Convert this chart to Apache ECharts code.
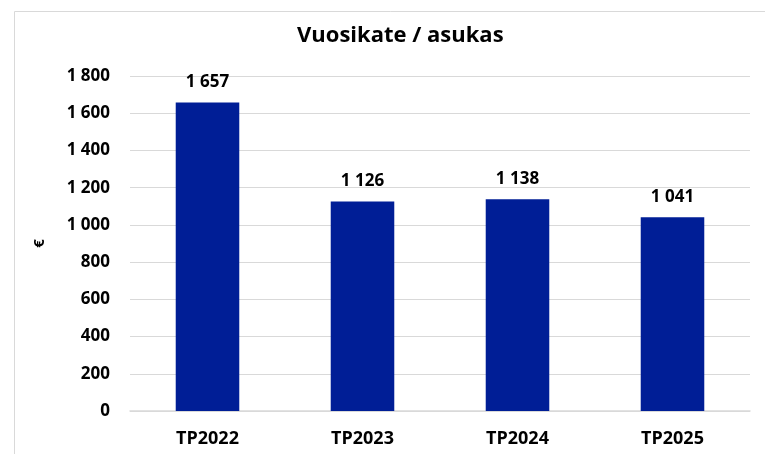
<!DOCTYPE html>
<html>
<head>
<meta charset="utf-8">
<script src="https://cdn.jsdelivr.net/npm/echarts@6/dist/echarts.min.js"></script>
<style>
  html, body { margin: 0; padding: 0; background: #fff; }
  #chart { width: 765px; height: 454px; }
</style>
</head>
<body>
<div id="chart"></div>
<script>
const categories = ['TP2022', 'TP2023', 'TP2024', 'TP2025']
const values = [1657, 1126, 1138, 1041]

const fmt = v => String(v).replace(/\B(?=(\d{3})+(?!\d))/g, ' ')
const font = '"Open Sans", "Noto Sans", sans-serif'

const chart = echarts.init(document.getElementById('chart'))
chart.setOption({
  animation: false,
  graphic: [{
    type: 'rect',
    shape: { x: 14.5, y: 11.5, width: 800, height: 500 },
    style: { fill: 'none', stroke: '#d9d9d9', lineWidth: 1 }
  }],
  title: {
    text: 'Vuosikate / asukas',
    left: 292,
    top: 20,
    textStyle: { fontFamily: font, fontWeight: 'bold', fontSize: 22, color: '#000' }
  },
  grid: { left: 130, right: 15, top: 76, bottom: 43 },
  xAxis: {
    type: 'category',
    data: categories,
    axisLine: { lineStyle: { color: '#d9d9d9', width: 1.5 } },
    axisTick: { show: false },
    axisLabel: { margin: 19, fontFamily: font, fontWeight: 'bold', fontSize: 18, color: '#000' }
  },
  yAxis: {
    type: 'value',
    min: 0,
    max: 1800,
    interval: 200,
    name: '€',
    nameLocation: 'middle',
    nameGap: 83,
    nameRotate: 90,
    nameTextStyle: { fontFamily: font, fontWeight: 'bold', fontSize: 15, color: '#000' },
    axisLine: { show: false },
    axisTick: { show: false },
    splitLine: { lineStyle: { color: '#d9d9d9', width: 1 } },
    axisLabel: { margin: 20, fontFamily: font, fontWeight: 'bold', fontSize: 17, color: '#000', formatter: fmt }
  },
  series: [{
    type: 'bar',
    data: values,
    barWidth: '41%',
    itemStyle: { color: '#001E96' },
    label: {
      show: true,
      position: 'top',
      distance: 12,
      fontFamily: font,
      fontWeight: 'bold',
      fontSize: 17,
      color: '#000',
      formatter: p => fmt(p.value)
    }
  }]
})
</script>
</body>
</html>
